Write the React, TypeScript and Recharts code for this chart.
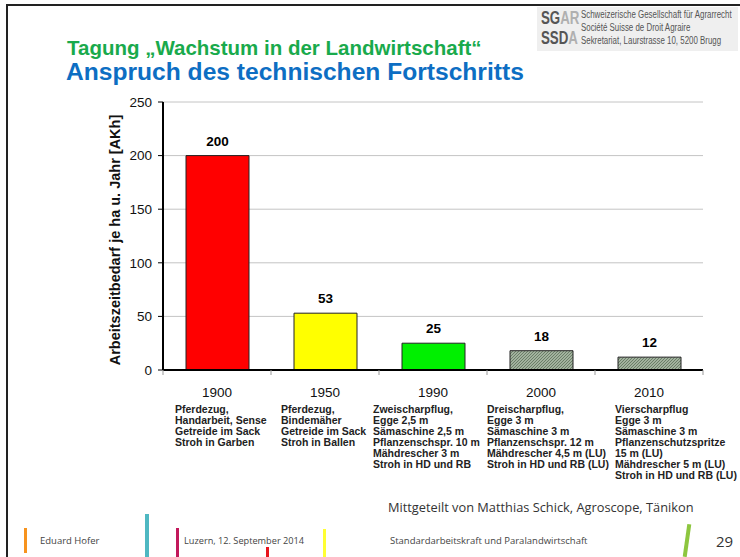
import React from "react";
import {
  BarChart,
  Bar,
  XAxis,
  YAxis,
  CartesianGrid,
  Cell,
  LabelList,
} from "recharts";

const years = ["1900", "1950", "1990", "2000", "2010"];
const hours = [200, 53, 25, 18, 12];
const yTicks = [0, 50, 100, 150, 200, 250];
const descriptions = [
  ["Pferdezug,", "Handarbeit, Sense", "Getreide im Sack", "Stroh in Garben"],
  ["Pferdezug,", "Bindemäher", "Getreide im Sack", "Stroh in Ballen"],
  ["Zweischarpflug,", "Egge 2,5 m", "Sämaschine 2,5 m", "Pflanzenschspr. 10 m", "Mähdrescher 3 m", "Stroh in HD und RB"],
  ["Dreischarpflug,", "Egge 3 m", "Sämaschine 3 m", "Pflanzenschspr. 12 m", "Mähdrescher 4,5 m (LU)", "Stroh in HD und RB (LU)"],
  ["Vierscharpflug", "Egge 3 m", "Sämaschine 3 m", "Pflanzenschutzspritze", "15 m (LU)", "Mähdrescher 5 m (LU)", "Stroh in HD und RB (LU)"],
];
const barFills = ["#ff0000", "#ffff00", "#00f000", "url(#hatch)", "url(#hatch)"];

// layout
const W = 740;
const H = 557;
const PLOT_L = 163;
const PLOT_R = 703;
const PLOT_T = 102;
const PLOT_B = 370;
const Y_AXIS_W = 50;
const X_AXIS_H = 130;
const BAND = (PLOT_R - PLOT_L) / years.length;
const descOffsets = [-42, -44, -60, -54, -34];

const data = years.map((year, i) => ({ year, value: hours[i] }));

const FONT = "'Liberation Sans', Arial, sans-serif";
const FOOT_FONT = "'Open Sans', 'DejaVu Sans', sans-serif";

function YearTick(props: any) {
  const { x, y, payload, index } = props;
  const lines = descriptions[index] || [];
  return (
    <g>
      {index === 0 && (
        <line x1={x - BAND / 2} x2={x - BAND / 2} y1={y} y2={y + 5} stroke="#999" />
      )}
      <line x1={x + BAND / 2} x2={x + BAND / 2} y1={y} y2={y + 5} stroke="#999" />
      <text x={x} y={y + 27} textAnchor="middle" fontSize={13.5} fill="#111" fontFamily={FONT}>
        {payload.value}
      </text>
      <text
        x={x + descOffsets[index]}
        y={y + 43}
        fontSize={10.5}
        fontWeight="bold"
        fill="#222"
        fontFamily={FONT}
      >
        {lines.map((l: string, k: number) => (
          <tspan key={k} x={x + descOffsets[index]} dy={k === 0 ? 0 : 11}>
            {l}
          </tspan>
        ))}
      </text>
    </g>
  );
}

const bar = (left: number, top: number, w: number, h: number, color: string, rot = 0) => (
  <div
    style={{
      position: "absolute",
      left,
      top,
      width: w,
      height: h,
      background: color,
      transform: rot ? `rotate(${rot}deg)` : undefined,
    }}
  />
);

const narrow = (left: number, top: number, size: number, scale: number): React.CSSProperties => ({
  position: "absolute",
  left,
  top,
  fontSize: size,
  whiteSpace: "nowrap",
  transform: `scaleX(${scale})`,
  transformOrigin: "left top",
});

export default function App() {
  return (
    <div
      style={{
        position: "absolute",
        left: 0,
        top: 0,
        width: W,
        height: H,
        background: "#fff",
        overflow: "hidden",
        fontFamily: FONT,
      }}
    >
      {/* slide frame */}
      <div style={{ position: "absolute", left: 6, top: 4, width: W, height: 1.5, background: "#222" }} />
      <div style={{ position: "absolute", left: 6, top: 4, width: 1.5, height: H, background: "#222" }} />

      {/* titles */}
      <div
        style={{
          position: "absolute",
          left: 67,
          top: 36,
          fontSize: 20.5,
          fontWeight: "bold",
          color: "#19aa4c",
          whiteSpace: "nowrap",
        }}
      >
        Tagung „Wachstum in der Landwirtschaft“
      </div>
      <div
        style={{
          position: "absolute",
          left: 66,
          top: 58,
          fontSize: 24.6,
          fontWeight: "bold",
          color: "#0d6ec3",
          whiteSpace: "nowrap",
        }}
      >
        Anspruch des technischen Fortschritts
      </div>

      {/* logo */}
      <div
        style={{
          position: "absolute",
          left: 537,
          top: 7,
          width: 201,
          height: 44,
          background: "#efefef",
        }}
      >
        <div style={{ ...narrow(4, 1, 19, 0.7), fontWeight: "bold", lineHeight: "20px" }}>
          <span style={{ color: "#555" }}>SG</span>
          <span style={{ color: "#b0b0b0" }}>AR</span>
        </div>
        <div style={{ ...narrow(4, 21, 19, 0.7), fontWeight: "bold", lineHeight: "20px" }}>
          <span style={{ color: "#555" }}>SSD</span>
          <span style={{ color: "#b0b0b0" }}>A</span>
        </div>
        <div style={{ ...narrow(44, 1, 10, 0.79), lineHeight: "13px", color: "#555" }}>
          Schweizerische Gesellschaft für Agrarrecht
          <br />
          Société Suisse de Droit Agraire
          <br />
          Sekretariat, Laurstrasse 10, 5200 Brugg
        </div>
      </div>

      {/* y axis title */}
      <div
        style={{
          position: "absolute",
          left: 115,
          top: 240,
          transform: "translate(-50%, -50%) rotate(-90deg)",
          fontSize: 14.5,
          fontWeight: "bold",
          color: "#111",
          whiteSpace: "nowrap",
        }}
      >
        Arbeitszeitbedarf je ha u. Jahr [AKh]
      </div>

      <div style={{ position: "absolute", left: 0, top: 0 }}>
        <BarChart
          width={W}
          height={H}
          data={data}
          margin={{
            top: PLOT_T,
            right: W - PLOT_R,
            left: PLOT_L - Y_AXIS_W,
            bottom: H - PLOT_B - X_AXIS_H,
          }}
        >
          <defs>
            <pattern id="hatch" patternUnits="userSpaceOnUse" width="3" height="3">
              <rect width="3" height="3" fill="#a2b29e" />
              <path d="M0,3 L3,0" stroke="#6a7e67" strokeWidth="1" />
            </pattern>
          </defs>
          <CartesianGrid vertical={false} stroke="#c4c4c4" />
          <XAxis
            dataKey="year"
            interval={0}
            height={X_AXIS_H}
            tickSize={0}
            tickMargin={0}
            tickLine={false}
            axisLine={{ stroke: "#000", strokeWidth: 2 }}
            tick={<YearTick />}
          />
          <XAxis
            xAxisId="top"
            orientation="top"
            dataKey="year"
            height={0}
            tick={false}
            tickLine={false}
            axisLine={{ stroke: "#000", strokeWidth: 2 }}
          />
          <YAxis
            domain={[0, 250]}
            ticks={yTicks}
            width={Y_AXIS_W}
            tickSize={5}
            tickMargin={6}
            tick={{ fontSize: 13.5, fill: "#111", fontFamily: FONT }}
            tickLine={{ stroke: "#000" }}
            axisLine={{ stroke: "#000", strokeWidth: 2 }}
          />
          <YAxis
            yAxisId="right"
            orientation="right"
            domain={[0, 250]}
            width={0}
            tick={false}
            tickLine={false}
            axisLine={{ stroke: "#000", strokeWidth: 2 }}
          />
          <Bar dataKey="value" barSize={63} stroke="#222" strokeWidth={1} isAnimationActive={false}>
            {data.map((d, i) => (
              <Cell key={d.year} fill={barFills[i]} />
            ))}
            <LabelList
              dataKey="value"
              position="top"
              offset={10}
              fontSize={13.5}
              fontWeight="bold"
              fill="#000"
              fontFamily={FONT}
            />
          </Bar>
        </BarChart>
      </div>

      {/* footer */}
      <div style={{ position: "absolute", left: 388, top: 498, fontSize: 12.8, color: "#333", whiteSpace: "nowrap", fontFamily: FOOT_FONT }}>
        Mittgeteilt von Matthias Schick, Agroscope, Tänikon
      </div>
      {bar(24, 528, 3, 25, "#f7931e")}
      {bar(145, 514, 4, 43, "#4fb8c2")}
      {bar(176, 528, 3, 29, "#c2185b")}
      {bar(266, 547, 3, 10, "#e8141c")}
      {bar(323, 529, 3, 28, "#ffff33")}
      {bar(685, 524, 4, 33, "#8dc63f", 8)}
      <div style={{ position: "absolute", left: 40, top: 534, fontSize: 9.5, color: "#444", whiteSpace: "nowrap", fontFamily: FOOT_FONT }}>
        Eduard Hofer
      </div>
      <div style={{ position: "absolute", left: 184, top: 534, fontSize: 9.2, color: "#444", whiteSpace: "nowrap", fontFamily: FOOT_FONT }}>
        Luzern, 12. September 2014
      </div>
      <div style={{ position: "absolute", left: 390, top: 534, fontSize: 9.5, color: "#444", whiteSpace: "nowrap", fontFamily: FOOT_FONT }}>
        Standardarbeitskraft und Paralandwirtschaft
      </div>
      <div style={{ position: "absolute", left: 716, top: 531, fontSize: 15, color: "#333", whiteSpace: "nowrap", fontFamily: FOOT_FONT }}>
        29
      </div>
    </div>
  );
}
